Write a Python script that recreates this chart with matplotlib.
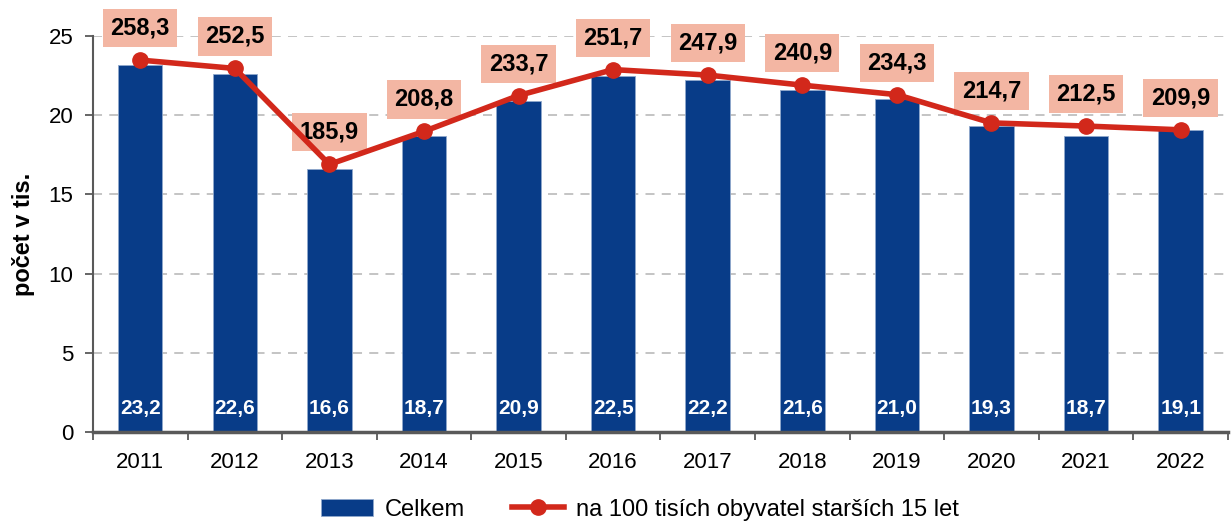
import matplotlib
matplotlib.use('Agg')
from matplotlib import pyplot as plt
import numpy as np

plt.rcParams['font.family'] = ['Liberation Sans', 'DejaVu Sans']

years = ['2011', '2012', '2013', '2014', '2015', '2016',
         '2017', '2018', '2019', '2020', '2021', '2022']
celkem = [23.2, 22.6, 16.6, 18.7, 20.9, 22.5, 22.2, 21.6, 21.0, 19.3, 18.7, 19.1]
na_100_tis = [258.3, 252.5, 185.9, 208.8, 233.7, 251.7, 247.9, 240.9, 234.3,
              214.7, 212.5, 209.9]

blue = '#083C88'
red = '#D2281B'
box = '#F3B6A3'
grey = '#595959'

fig = plt.figure(figsize=(12.31, 5.22), dpi=100)
ax = fig.add_axes([0.0755, 0.172, 0.922, 0.759])
x = np.arange(len(years))

ax.bar(x, celkem, width=0.47, color=blue, edgecolor='#8FA8CC', linewidth=0.6,
       zorder=2, label='Celkem')
for xi, v in zip(x, celkem):
    ax.text(xi, 1.5, f'{v:.1f}'.replace('.', ','), ha='center', va='center',
            color='white', fontsize=15, fontweight='bold', zorder=3)

ax.set_xlim(-0.5, len(years) - 0.5)
ax.set_ylim(0, 25)
ax.set_yticks(range(0, 26, 5))
ax.set_xticks(x)
ax.set_xticklabels(years)
ax.set_xticks(np.arange(len(years) + 1) - 0.5, minor=True)
ax.tick_params(axis='x', which='major', length=0, pad=14, labelsize=16)
ax.tick_params(axis='x', which='minor', length=6, width=1.3, color=grey)
ax.tick_params(axis='y', length=6, width=1.3, color=grey, labelsize=16, pad=8)
for g in range(5, 26, 5):
    ax.axhline(g, color='#BFBFBF', linestyle=(0, (5, 4)), linewidth=1.3, zorder=1)
for s in ['top', 'right']:
    ax.spines[s].set_visible(False)
ax.spines['left'].set_color(grey)
ax.spines['left'].set_linewidth(1.5)
ax.spines['bottom'].set_color(grey)
ax.spines['bottom'].set_linewidth(2.5)
ax.spines['bottom'].set_zorder(4)
ax.set_ylabel('počet v tis.', fontsize=17, fontweight='bold', labelpad=10)

ax2 = ax.twinx()
ax2.set_ylim(0, 275)
ax2.plot(x, na_100_tis, color=red, linewidth=4, marker='o', markersize=11,
         label='na 100 tisích obyvatel starších 15 let', zorder=5)
ax2.axis('off')
for xi, v in zip(x, na_100_tis):
    ax2.annotate(f'{v:.1f}'.replace('.', ','), (xi, v), xytext=(0, 23),
                 textcoords='offset points', ha='center', va='center',
                 fontsize=17, fontweight='bold', annotation_clip=False,
                 bbox=dict(boxstyle='square,pad=0.32', fc=box, ec='none'))

h1, l1 = ax.get_legend_handles_labels()
h2, l2 = ax2.get_legend_handles_labels()
fig.legend(h1 + h2, l1 + l2, loc='lower center', bbox_to_anchor=(0.52, -0.038),
           ncol=2, frameon=False, fontsize=17, handlelength=2.2,
           columnspacing=2.0, handletextpad=0.5)

fig.savefig('out.png', dpi=100)
